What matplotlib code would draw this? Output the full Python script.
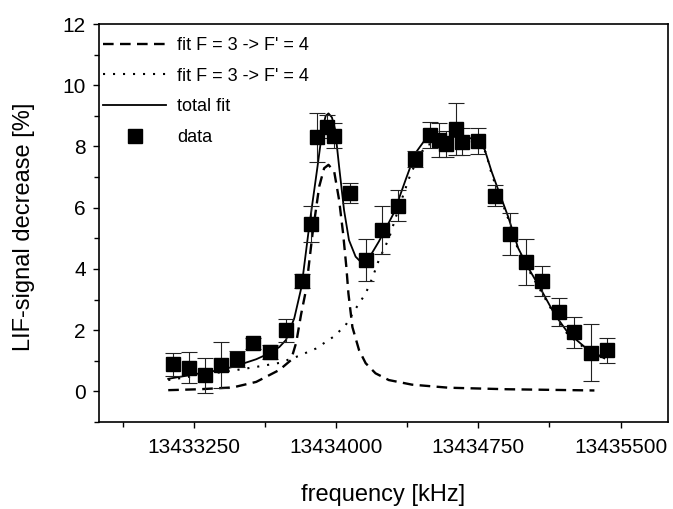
"""
LIF-signal decrease vs. frequency: data points with error bars plus the
two-peak fit (F = 3 -> F' = 4 components and total fit).
"""

import matplotlib

matplotlib.use("Agg")
import matplotlib.pyplot as plt
from matplotlib.lines import Line2D
from matplotlib.ticker import MultipleLocator

plt.rcParams["font.family"] = ["Liberation Sans", "DejaVu Sans"]

# measured points (frequency in kHz, signal decrease in %, error)
freq_khz = [
    13433141, 13433225, 13433309, 13433395, 13433479, 13433563, 13433649,
    13433736, 13433820, 13433870, 13433902, 13433954, 13433990, 13434072,
    13434156, 13434240, 13434327, 13434414, 13434497, 13434545, 13434581,
    13434631, 13434666, 13434750, 13434837, 13434919, 13435003, 13435087,
    13435175, 13435257, 13435344, 13435428,
]
signal = [
    0.88, 0.78, 0.53, 0.86, 1.06, 1.57, 1.29,
    2.00, 3.61, 5.46, 8.30, 8.65, 8.35, 6.49,
    4.29, 5.27, 6.07, 7.59, 8.37, 8.21, 8.07,
    8.58, 8.16, 8.19, 6.39, 5.14, 4.24, 3.61,
    2.60, 1.93, 1.27, 1.35,
]
signal_err = [
    0.38, 0.52, 0.57, 0.76, 0.25, 0.17, 0.23,
    0.38, 0.23, 0.59, 0.80, 0.38, 0.41, 0.33,
    0.68, 0.77, 0.50, 0.25, 0.43, 0.56, 0.42,
    0.85, 0.45, 0.42, 0.34, 0.68, 0.75, 0.48,
    0.46, 0.50, 0.92, 0.41,
]

# narrow component (dashed)
narrow_f = [
    13433115, 13433281, 13433456, 13433579, 13433701, 13433762, 13433790,
    13433815, 13433841, 13433876, 13433911, 13433937, 13433960, 13433990,
    13434016, 13434037, 13434054, 13434065, 13434086, 13434121, 13434156,
    13434208, 13434278, 13434400, 13434593, 13434900, 13435362,
]
narrow_y = [
    0.04, 0.07, 0.13, 0.31, 0.70, 1.02, 1.60,
    2.50, 3.30, 5.16, 6.69, 7.29, 7.40, 7.18,
    6.25, 5.16, 4.07, 3.20, 2.10, 1.35, 0.92,
    0.59, 0.37, 0.22, 0.12, 0.07, 0.03,
]

# broad component (dotted)
broad_f = [
    13433115, 13433281, 13433456, 13433579, 13433701, 13433800, 13433894,
    13433990, 13434051, 13434103, 13434156, 13434191, 13434226, 13434279,
    13434331, 13434384, 13434436, 13434480, 13434550, 13434650, 13434720,
    13434760, 13434790, 13434820, 13434855, 13434907, 13434960, 13435012,
    13435082, 13435152, 13435222, 13435309, 13435414,
]
broad_y = [
    0.37, 0.53, 0.68, 0.80, 0.93, 1.15, 1.40,
    1.80, 2.17, 2.70, 3.20, 3.70, 4.30, 5.00,
    6.00, 6.95, 7.70, 8.05, 8.15, 8.18, 8.15,
    8.05, 7.80, 7.10, 6.50, 5.65, 4.62, 4.00,
    3.25, 2.50, 1.85, 1.42, 1.05,
]

# total fit (solid)
total_f = [
    13433115, 13433200, 13433281, 13433370, 13433456, 13433579, 13433650,
    13433701, 13433736, 13433780, 13433818, 13433858, 13433902, 13433928,
    13433945, 13433960, 13433978, 13433995, 13434016, 13434042, 13434068,
    13434103, 13434138, 13434173, 13434226, 13434304, 13434366, 13434418,
    13434461, 13434520, 13434600, 13434680, 13434750, 13434784, 13434820,
    13434855, 13434907, 13434960, 13435012, 13435082, 13435152, 13435222,
    13435309, 13435414,
]
total_y = [
    0.41, 0.50, 0.59, 0.68, 0.80, 1.05, 1.25,
    1.45, 1.68, 2.40, 3.42, 5.38, 7.34, 8.55,
    9.00, 9.08, 8.95, 8.55, 7.34, 5.92, 4.94,
    4.40, 4.18, 4.35, 4.90, 5.82, 6.90, 7.78,
    8.15, 8.30, 8.32, 8.30, 8.22, 7.89, 7.18,
    6.58, 5.71, 4.68, 4.05, 3.31, 2.52, 1.92,
    1.46, 1.08,
]

x_ticks = [13433250, 13434000, 13434750, 13435500]
y_ticks = [0, 2, 4, 6, 8, 10, 12]

legend_labels = ["fit F = 3 -> F' = 4", "fit F = 3 -> F' = 4", "total fit", "data"]


def main() -> None:
    fig = plt.figure(figsize=(6.73, 5.09), dpi=100)
    ax = fig.add_axes([99 / 673, 87 / 509, 569 / 673, 398 / 509])

    dashed = (0, (4.5, 2.7))
    dotted = (0, (1.0, 3.8))

    ax.plot(narrow_f, narrow_y, color="black", lw=1.7, linestyle=dashed)
    ax.plot(broad_f, broad_y, color="black", lw=1.5, linestyle=dotted)
    ax.plot(total_f, total_y, color="black", lw=1.3)
    ax.errorbar(
        freq_khz, signal, yerr=signal_err, fmt="s", color="black",
        ms=9.5, ecolor="#222222", elinewidth=0.8, capsize=5.5, capthick=0.8,
    )

    ax.set_xlim(13432750, 13435750)
    ax.set_ylim(-1, 12)
    ax.set_xticks(x_ticks)
    ax.set_xticklabels([str(v) for v in x_ticks])
    ax.xaxis.set_minor_locator(MultipleLocator(375))
    ax.set_yticks(y_ticks)
    ax.yaxis.set_minor_locator(MultipleLocator(1))

    ax.tick_params(axis="both", which="major", direction="out", length=4.5,
                   width=1.0, labelsize=15, pad=5)
    ax.tick_params(axis="both", which="minor", direction="out", length=3.5,
                   width=1.0)
    ax.tick_params(axis="x", which="major", pad=7)
    for spine in ax.spines.values():
        spine.set_linewidth(1.2)

    ax.set_xlabel("frequency [kHz]", fontsize=17)
    ax.set_ylabel("LIF-signal decrease [%]", fontsize=17)
    ax.xaxis.set_label_coords(0.5, -0.155)
    ax.yaxis.set_label_coords(-0.112, 0.49)

    handles = [
        Line2D([], [], color="black", lw=1.7, linestyle=dashed),
        Line2D([], [], color="black", lw=1.5, linestyle=dotted),
        Line2D([], [], color="black", lw=1.3),
        Line2D([], [], color="black", marker="s", ms=9.5, linestyle="none"),
    ]
    ax.legend(
        handles, legend_labels, loc="upper left", frameon=False,
        bbox_to_anchor=(4 / 569, 1 - 13 / 398), borderaxespad=0, borderpad=0,
        fontsize=13, handlelength=3.5, handletextpad=0.6, labelspacing=0.76,
    )

    fig.savefig("out.png", dpi=100)
    plt.close(fig)


if __name__ == "__main__":
    main()
